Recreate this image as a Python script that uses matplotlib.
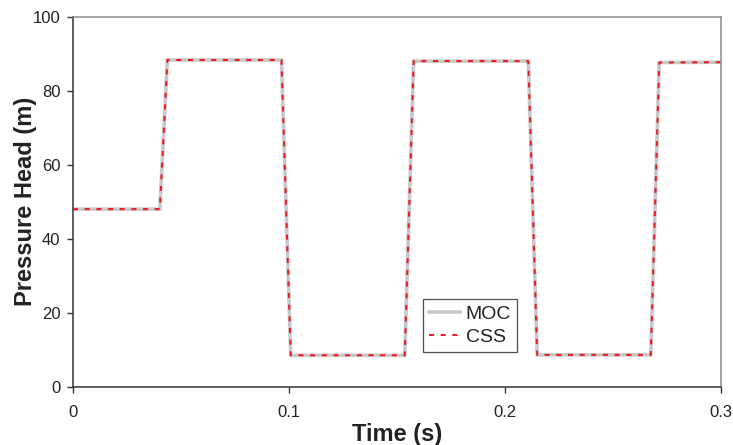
import matplotlib
matplotlib.use("Agg")
import matplotlib.pyplot as plt

plt.rcParams['font.family'] = ['Liberation Sans', 'DejaVu Sans']

# pressure head at the valve, time in seconds
time_moc = [0.0, 0.0402, 0.0437, 0.0965, 0.1008, 0.1536, 0.1577, 0.2108, 0.2149, 0.2675, 0.2714, 0.3]
head_moc = [48.0, 48.0, 88.3, 88.3, 8.5, 8.5, 88.0, 88.0, 8.6, 8.6, 87.6, 87.7]
time_css = [0.0, 0.0402, 0.0437, 0.0965, 0.1008, 0.1536, 0.1577, 0.2108, 0.2149, 0.2675, 0.2714, 0.3]
head_css = [48.0, 48.0, 88.3, 88.3, 8.5, 8.5, 88.0, 88.0, 8.6, 8.6, 87.6, 87.7]

xticks = [0, 0.1, 0.2, 0.3]
xticklabels = ['0', '0.1', '0.2', '0.3']
yticks = [0, 20, 40, 60, 80, 100]

fig = plt.figure(figsize=(7.33, 4.45), dpi=100)
ax = fig.add_axes([0.0996, 0.131, 0.884, 0.8315])

ax.plot(time_moc, head_moc, color='#c8c8c8', lw=2.6, label='MOC', solid_joinstyle='miter')
ax.plot(time_css, head_css, color='#ee1c25', lw=1.5, dashes=(2.4, 3.2), label='CSS')

ax.set_xlim(0, 0.3)
ax.set_ylim(0, 100)
ax.set_xticks(xticks)
ax.set_xticklabels(xticklabels)
ax.set_yticks(yticks)

ax.tick_params(direction='out', length=4, width=1, colors='#333333',
               labelsize=12, labelcolor='#222222', pad=5)
ax.tick_params(axis='x', pad=9)

for side in ['left', 'bottom']:
    ax.spines[side].set_color('#333333')
    ax.spines[side].set_linewidth(1.1)
for side in ['top', 'right']:
    ax.spines[side].set_color('#8a8a8a')
    ax.spines[side].set_linewidth(1.1)

ax.set_xlabel('Time (s)', fontsize=17, fontweight='bold', color='#222222', labelpad=2)
ax.set_ylabel('Pressure Head (m)', fontsize=17, fontweight='bold', color='#222222', labelpad=-3)

leg = ax.legend(loc='lower left', bbox_to_anchor=(0.54, 0.094), fontsize=14,
                frameon=True, fancybox=False, handlelength=1.6,
                borderpad=0.3, labelspacing=0.3, handletextpad=0.3, borderaxespad=0)
leg.get_frame().set_edgecolor('#222222')
leg.get_frame().set_linewidth(0.9)
for t in leg.get_texts():
    t.set_color('#222222')

fig.savefig('out.png', dpi=100)
